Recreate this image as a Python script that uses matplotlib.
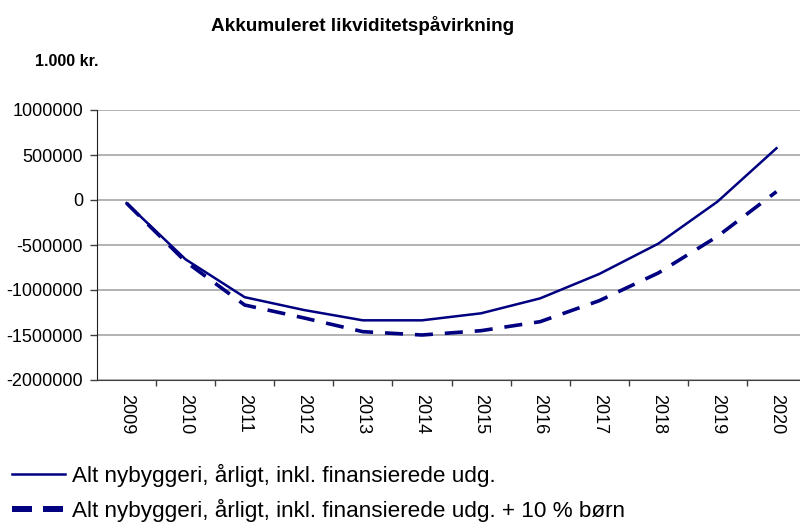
import matplotlib
matplotlib.use("Agg")
import matplotlib.pyplot as plt
from matplotlib.lines import Line2D
from matplotlib.ticker import FixedLocator

years = ["2009", "2010", "2011", "2012", "2013", "2014", "2015", "2016",
         "2017", "2018", "2019", "2020"]
base = [-35000, -660000, -1080000, -1222000, -1337000, -1337000, -1259000,
        -1093000, -822000, -485000, -19000, 575000]
plus10 = [-35000, -685000, -1167000, -1310000, -1463000, -1500000, -1452000,
          -1352000, -1119000, -811000, -405000, 93000]
yticks = [1000000, 500000, 0, -500000, -1000000, -1500000, -2000000]
label_base = "Alt nybyggeri, årligt, inkl. finansierede udg."
label_plus = "Alt nybyggeri, årligt, inkl. finansierede udg. + 10 % børn"

plt.rcParams['font.family'] = ['Liberation Sans', 'DejaVu Sans']
navy = "#000080"

fig = plt.figure(figsize=(8, 5.24), dpi=100)
ax = fig.add_axes([97/800, 1-380/524, 709/800, 270/524])

x = list(range(len(years)))
ax.plot(x, base, color=navy, lw=1.8)
ax.plot(x, plus10, color=navy, lw=2.6, linestyle=(0, (5.0, 3.3)))

ax.set_xlim(-0.5, len(years) - 0.5)
ax.set_ylim(-2000000, 1000000)
ax.set_yticks(yticks)
ax.set_yticklabels([str(v) for v in yticks], fontsize=13)
ax.yaxis.grid(True, color="#a6a6a6", lw=1.2)
ax.set_axisbelow(True)

ax.set_xticks(x)
ax.set_xticklabels(years, rotation=-90, fontsize=13)
ax.tick_params(axis='x', which='major', length=0, pad=10)
ax.xaxis.set_minor_locator(FixedLocator([i + 0.5 for i in range(len(years) - 1)]))
ax.tick_params(axis='x', which='minor', length=4, width=1, color='#404040')
ax.tick_params(axis='y', length=5, width=1, color='#404040', pad=5)

for s in ['top', 'right']:
    ax.spines[s].set_visible(False)
ax.spines['left'].set_color('#202020')
ax.spines['bottom'].set_color('#404040')

fig.text(363/800, 1-31/524, "Akkumuleret likviditetspåvirkning",
         ha='center', va='baseline', fontsize=13.6, fontweight='bold')
fig.text(35/800, 1-66/524, "1.000 kr.", ha='left', va='baseline',
         fontsize=11.5, fontweight='bold')

handles = [Line2D([], [], color=navy, lw=1.8),
           Line2D([], [], color=navy, lw=4.3, linestyle=(0, (3.35, 1.84)))]
fig.legend(handles, [label_base, label_plus], loc='center left',
           bbox_to_anchor=(12/800, 1-493/524), frameon=False, fontsize=16.2,
           handlelength=2.37, handletextpad=0.3, labelspacing=0.55,
           borderaxespad=0, borderpad=0)

fig.savefig("out.png", dpi=100)
